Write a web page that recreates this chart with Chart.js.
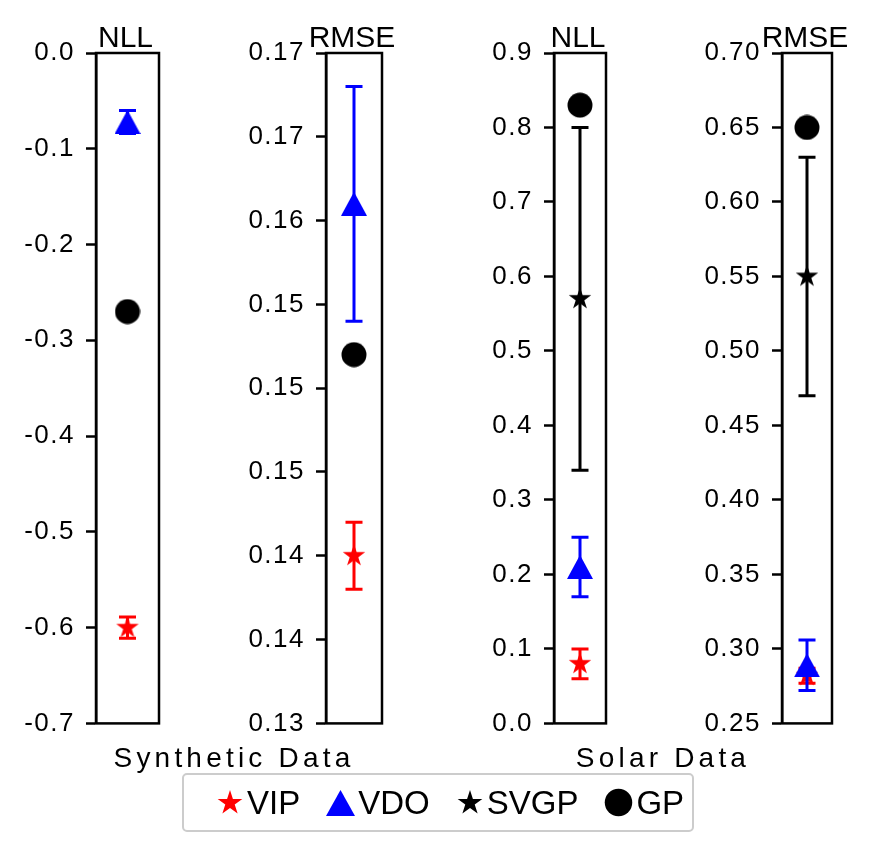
<!DOCTYPE html>
<html>
<head>
<meta charset="utf-8">
<script src="https://cdn.jsdelivr.net/npm/chart.js@4.4.1/dist/chart.umd.min.js"></script>
<style>
  body {
    margin: 0;
    background: #fff;
    width: 872px;
    height: 855px;
    position: relative;
    overflow: hidden;
    font-family: "Liberation Sans", Arial, sans-serif;
    color: #000;
  }
  .panel { position: absolute; }
  .xlabel {
    position: absolute;
    font-size: 28px;
    letter-spacing: 4.2px;
    line-height: 1;
    white-space: nowrap;
    transform: translateX(-50%);
  }
  #legend {
    position: absolute;
    left: 182px;
    top: 773px;
    width: 476px;
    height: 55px;
    border: 2px solid #cccccc;
    border-radius: 5px;
    display: flex;
    align-items: center;
    padding-left: 32px;
    box-sizing: content-box;
    font-size: 33px;
  }
  #legend .item { display: flex; align-items: center; margin-right: 26px; }
  #legend canvas { margin-right: 3px; }
</style>
</head>
<body>
<div class="panel" id="p0"><canvas></canvas></div>
<div class="panel" id="p1"><canvas></canvas></div>
<div class="panel" id="p2"><canvas></canvas></div>
<div class="panel" id="p3"><canvas></canvas></div>
<div class="xlabel" style="left:234px; top:744px;">Synthetic Data</div>
<div class="xlabel" style="left:663px; top:744px;">Solar Data</div>
<div id="legend"></div>
<script>
// methods, in legend order
const methods = ["VIP", "VDO", "SVGP", "GP"];
const colors = ["#ff0000", "#0000ff", "#000000", "#000000"];

// Synthetic data
const synthNll = [-0.600, -0.072, null, -0.270];
const synthNllErr = [0.011, 0.012, null, null];
const synthRmse = [0.140, 0.161, null, 0.152];
const synthRmseErr = [0.002, 0.007, null, null];

// Solar data
const solarNll = [0.080, 0.210, 0.570, 0.830];
const solarNllErr = [0.020, 0.040, 0.230, null];
const solarRmse = [0.282, 0.289, 0.550, 0.650];
const solarRmseErr = [0.005, 0.017, 0.080, null];

// axis ranges and tick labels
const synthNllRange = [-0.7, 0.0];
const synthRmseRange = [0.13, 0.17];
const solarNllRange = [0.0, 0.9];
const solarRmseRange = [0.25, 0.70];
const synthNllTicks = ["-0.7", "-0.6", "-0.5", "-0.4", "-0.3", "-0.2", "-0.1", "0.0"];
const synthRmseTicks = ["0.13", "0.14", "0.14", "0.15", "0.15", "0.15", "0.16", "0.17", "0.17"];
const solarNllTicks = ["0.0", "0.1", "0.2", "0.3", "0.4", "0.5", "0.6", "0.7", "0.8", "0.9"];
const solarRmseTicks = ["0.25", "0.30", "0.35", "0.40", "0.45", "0.50", "0.55", "0.60", "0.65", "0.70"];

const FONT = "'Liberation Sans', Arial, sans-serif";

// marker images
function starMarker(r, color) {
  const c = document.createElement("canvas");
  const s = Math.ceil(2 * r + 2);
  c.width = s; c.height = s;
  const ctx = c.getContext("2d");
  ctx.fillStyle = color;
  ctx.beginPath();
  for (let i = 0; i < 10; i++) {
    const a = -Math.PI / 2 + i * Math.PI / 5;
    const rr = i % 2 === 0 ? r : r * 0.382;
    const px = s / 2 + Math.cos(a) * rr;
    const py = s / 2 + Math.sin(a) * rr;
    if (i === 0) ctx.moveTo(px, py); else ctx.lineTo(px, py);
  }
  ctx.closePath();
  ctx.fill();
  return c;
}

function triMarker(w, h, color) {
  const c = document.createElement("canvas");
  c.width = w; c.height = h;
  const ctx = c.getContext("2d");
  ctx.fillStyle = color;
  ctx.beginPath();
  ctx.moveTo(w / 2, 0);
  ctx.lineTo(w, h);
  ctx.lineTo(0, h);
  ctx.closePath();
  ctx.fill();
  return c;
}

function circleMarker(r, color) {
  const c = document.createElement("canvas");
  const s = Math.ceil(2 * r + 1);
  c.width = s; c.height = s;
  const ctx = c.getContext("2d");
  ctx.fillStyle = color;
  ctx.beginPath();
  ctx.arc(s / 2, s / 2, r, 0, Math.PI * 2);
  ctx.fill();
  return c;
}

function markerFor(i, big) {
  const k = big ? 1.1 : 1;
  if (methods[i] === "VDO") return triMarker(Math.round(26 * k), Math.round(24 * k), colors[i]);
  if (methods[i] === "GP") return circleMarker(12.5 * k, colors[i]);
  return starMarker(11.8 * k, colors[i]);
}

// box around the plot area
const framePlugin = {
  id: "frame",
  beforeDatasetsDraw(chart) {
    const a = chart.chartArea;
    const ctx = chart.ctx;
    ctx.save();
    ctx.strokeStyle = "#000";
    ctx.lineWidth = 2.5;
    ctx.strokeRect(a.left, a.top, a.right - a.left, a.bottom - a.top);
    ctx.restore();
  }
};

// error bars, drawn with each dataset
const errorBarPlugin = {
  id: "errorBars",
  afterDatasetDraw(chart, args) {
    const ds = chart.data.datasets[args.index];
    if (ds.err == null) return;
    const xs = chart.scales.x, ys = chart.scales.y;
    const ctx = chart.ctx;
    ctx.save();
    ctx.strokeStyle = ds.errColor;
    ctx.lineWidth = 3;
    ds.data.forEach((p) => {
      const x = xs.getPixelForValue(p.x);
      const yTop = ys.getPixelForValue(p.y + ds.err);
      const yBot = ys.getPixelForValue(p.y - ds.err);
      ctx.beginPath();
      ctx.moveTo(x, yTop); ctx.lineTo(x, yBot);
      ctx.moveTo(x - 8.5, yTop); ctx.lineTo(x + 8.5, yTop);
      ctx.moveTo(x - 8.5, yBot); ctx.lineTo(x + 8.5, yBot);
      ctx.stroke();
    });
    ctx.restore();
  }
};

// panel title above the box, tick labels get some letter spacing
const titlePlugin = {
  id: "panelTitle",
  beforeDraw(chart) {
    chart.ctx.letterSpacing = "1.5px";
  },
  afterDraw(chart, args, opts) {
    const a = chart.chartArea;
    const ctx = chart.ctx;
    ctx.save();
    ctx.letterSpacing = "0px";
    ctx.fillStyle = "#000";
    ctx.font = "30px " + FONT;
    ctx.textAlign = "center";
    ctx.textBaseline = "alphabetic";
    ctx.fillText(opts.text, (a.left + a.right) / 2 - 2, a.top - 6);
    ctx.restore();
  }
};

const AXW = 92;    // room for tick labels
const TOP = 33;    // room for the title
const BOT = 22;
const RIGHT = 24;
const PLOT_H = 675;

const panels = [
  { id: "p0", title: "NLL", mean: synthNll, err: synthNllErr, range: synthNllRange, step: 0.1, ticks: synthNllTicks, left: 96, width: 63 },
  { id: "p1", title: "RMSE", mean: synthRmse, err: synthRmseErr, range: synthRmseRange, step: 0.005, ticks: synthRmseTicks, left: 326, width: 56 },
  { id: "p2", title: "NLL", mean: solarNll, err: solarNllErr, range: solarNllRange, step: 0.1, ticks: solarNllTicks, left: 554, width: 52 },
  { id: "p3", title: "RMSE", mean: solarRmse, err: solarRmseErr, range: solarRmseRange, step: 0.05, ticks: solarRmseTicks, left: 782, width: 50 }
];

panels.forEach((p) => {
  const box = document.getElementById(p.id);
  box.style.left = (p.left - AXW) + "px";
  box.style.top = (53 - TOP) + "px";
  box.style.width = (AXW + p.width + RIGHT) + "px";
  box.style.height = (TOP + PLOT_H + BOT) + "px";

  const datasets = [];
  methods.forEach((m, i) => {
    if (p.mean[i] == null) return;
    datasets.push({
      label: m,
      data: [{ x: 1, y: p.mean[i] }],
      pointStyle: markerFor(i, false),
      pointRadius: 10,
      pointHoverRadius: 10,
      backgroundColor: colors[i],
      borderWidth: 0,
      err: p.err[i],
      errColor: colors[i],
      order: methods.length - 1 - i
    });
  });

  new Chart(box.querySelector("canvas"), {
    type: "scatter",
    data: { datasets },
    options: {
      responsive: true,
      maintainAspectRatio: false,
      animation: false,
      events: [],
      layout: { padding: { top: TOP, bottom: BOT, left: 0, right: RIGHT } },
      plugins: {
        legend: { display: false },
        tooltip: { enabled: false },
        panelTitle: { text: p.title }
      },
      scales: {
        x: { type: "linear", min: 0, max: 2, display: false },
        y: {
          min: p.range[0],
          max: p.range[1],
          ticks: {
            stepSize: p.step,
            color: "#000",
            padding: 11,
            font: { family: FONT, size: 26 },
            callback: (v, idx) => p.ticks[idx]
          },
          grid: { drawOnChartArea: false, tickLength: 10, tickWidth: 2.5, tickColor: "#000", color: "#000" },
          border: { display: true, color: "#000", width: 2.5 },
          afterFit: (s) => { s.width = AXW; }
        }
      }
    },
    plugins: [framePlugin, errorBarPlugin, titlePlugin]
  });
});

// legend
const legend = document.getElementById("legend");
methods.forEach((m, i) => {
  const item = document.createElement("div");
  item.className = "item";
  item.appendChild(markerFor(i, true));
  const t = document.createElement("span");
  t.textContent = m;
  item.appendChild(t);
  legend.appendChild(item);
});
</script>
</body>
</html>
